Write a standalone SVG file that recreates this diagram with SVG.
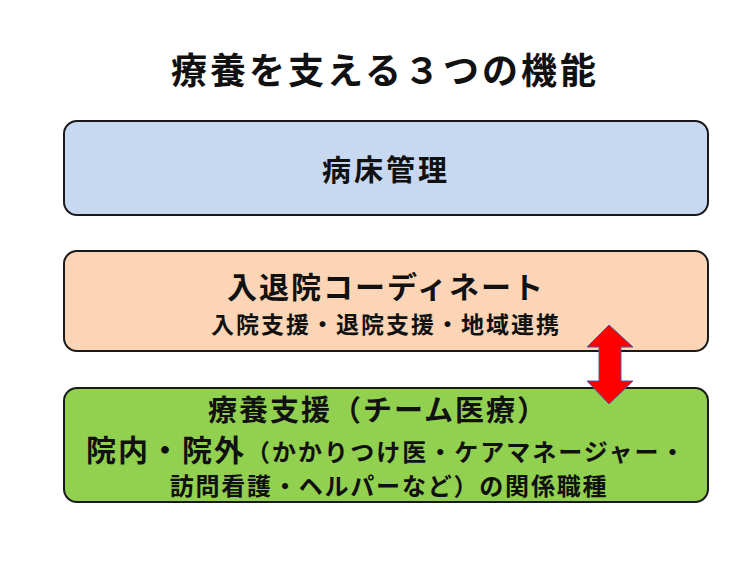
<svg xmlns="http://www.w3.org/2000/svg" width="752" height="564" viewBox="0 0 752 564">
<style>
.t{font-family:"Noto Sans CJK JP","Noto Sans CJK SC",sans-serif;font-weight:bold;fill:#111}
.box{stroke:#1a1a1a;stroke-width:2}
</style>
<rect width="752" height="564" fill="#fff"/>
<text class="t" x="385" y="84" font-size="36" letter-spacing="3" text-anchor="middle">療養を支える３つの機能</text>
<g id="node-bed">
<rect class="box" x="64" y="121" width="644" height="94" rx="13" fill="#c6d9f1"/>
<text class="t" x="386" y="181" font-size="29" letter-spacing="3" text-anchor="middle">病床管理</text>
</g>
<g id="node-coord">
<rect class="box" x="64" y="251" width="644" height="100" rx="13" fill="#fbd5b6"/>
<text class="t" x="386" y="298" font-size="30" letter-spacing="2" text-anchor="middle">入退院コーディネート</text>
<text class="t" x="386" y="333" font-size="23" letter-spacing="2" text-anchor="middle">入院支援・退院支援・地域連携</text>
</g>
<g id="node-care">
<rect class="box" x="64" y="388" width="644" height="114" rx="13" fill="#92d050"/>
<text class="t" x="378" y="421" font-size="29" letter-spacing="2" text-anchor="middle">療養支援（チーム医療）</text>
<text class="t" x="86" y="461"><tspan font-size="30" letter-spacing="2">院内・院外</tspan><tspan font-size="24" letter-spacing="2">（かかりつけ医・ケアマネージャー・</tspan></text>
<text class="t" x="389" y="495" font-size="24" letter-spacing="1.8" text-anchor="middle">訪問看護・ヘルパーなど）の関係職種</text>
</g>
<g id="connectors">
<polygon points="609,325 633,347 621,347 621,381 633,381 609,404 587,381 599,381 599,347 587,347" fill="#ff0000" stroke="#4a5aa8" stroke-width="1"/>
</g>
</svg>
